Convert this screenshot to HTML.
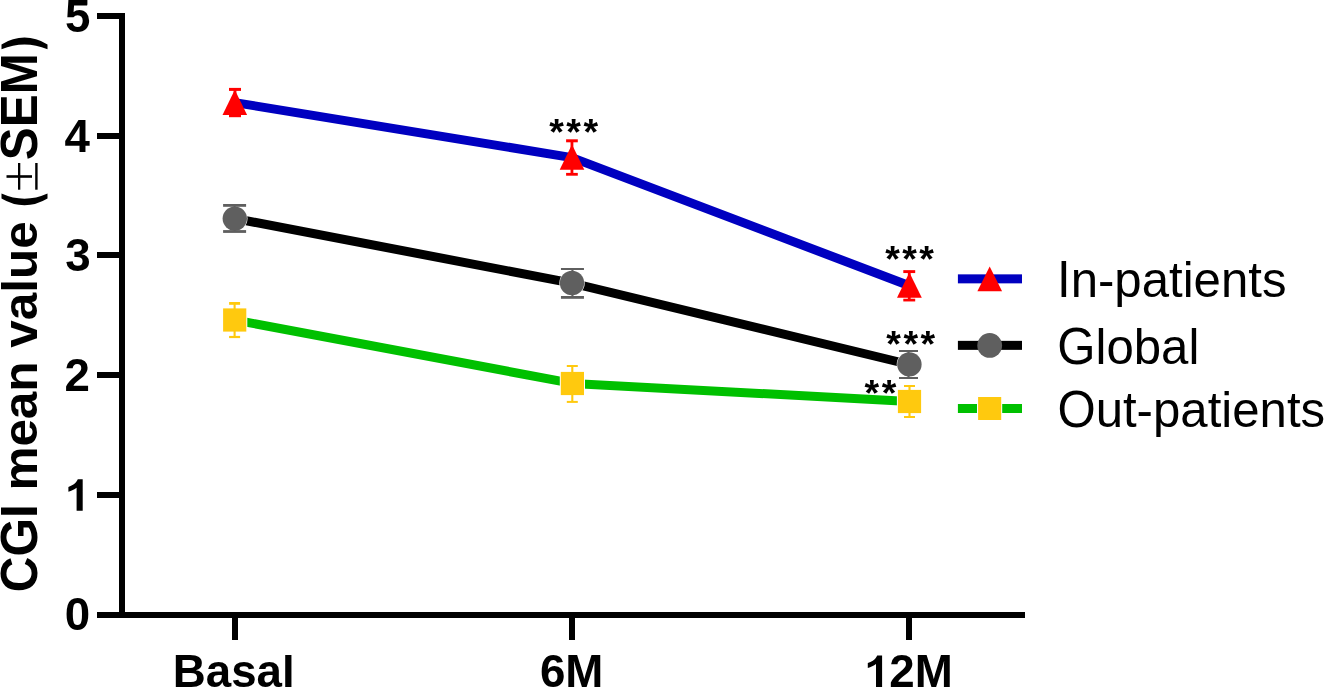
<!DOCTYPE html>
<html><head><meta charset="utf-8"><style>
html,body{margin:0;padding:0;background:#fff;overflow:hidden;}
svg{display:block;will-change:transform;}
text{font-family:"Liberation Sans",sans-serif;font-kerning:none;}
</style></head><body>
<svg width="1325" height="688" viewBox="0 0 1325 688">
<g fill="#000">
<rect x="119" y="13" width="6" height="605"/>
<rect x="97" y="612" width="928" height="6"/>
<rect x="97" y="13" width="22" height="6"/>
<rect x="97" y="133" width="22" height="6"/>
<rect x="97" y="252" width="22" height="6"/>
<rect x="97" y="372" width="22" height="6"/>
<rect x="97" y="492" width="22" height="6"/>
<rect x="232" y="618" width="6" height="22"/>
<rect x="569" y="618" width="6" height="22"/>
<rect x="906" y="618" width="6" height="22"/>
</g>
<g font-size="45.7" font-weight="bold">
<text x="65.07" y="31.9">5</text>
<text x="64.42" y="151.6">4</text>
<text x="65.14" y="270.9">3</text>
<text x="64.52" y="390.8">2</text>
<text x="64.78" y="630.15">0</text>
</g>
<path d="M876.0,687 L882.1,687 L882.1,655.4 L877.2,655.4 C876.3,657.5 874.7,659.3 872.8,660.7 C871.3,661.7 869.6,662.5 867.8,663.1 L867.8,668 C870.9,667 873.8,665.6 876.0,663.9 Z" transform="translate(-799.4,-176.2)"/>
<path d="M70.6,0 L87.1,0 L87.1,5.6 L69.7,5.6 Z"/>
<g font-size="45.7" font-weight="bold">
<text x="172.74" y="687">Basa</text>
<text transform="translate(281.99,687) scale(1,0.965)">l</text>
<text x="539.9" y="687">6M</text>
<text x="889.3" y="687">2M</text>
</g>
<path d="M876.0,687 L882.1,687 L882.1,655.4 L877.2,655.4 C876.3,657.5 874.7,659.3 872.8,660.7 C871.3,661.7 869.6,662.5 867.8,663.1 L867.8,668 C870.9,667 873.8,665.6 876.0,663.9 Z"/>
<g font-weight="bold">
<text font-size="49.44" transform="translate(37.4,592.2) rotate(-90) scale(1,1.056)">CGI</text>
<text font-size="49.44" transform="translate(37.4,490.57) rotate(-90) scale(1,0.985)">mean va</text>
<text font-size="49.44" transform="translate(37.4,292.69) rotate(-90)">l</text>
<text font-size="49.44" transform="translate(37.4,278.95) rotate(-90) scale(1,0.985)">ue</text>
<text font-size="49.37" transform="translate(37.4,160.2) rotate(-90) scale(1,1.056)">SEM</text>
</g>
<path d="M1.5,193.5 Q24.5,203.9 47.5,193.5 L47.5,198.5 Q24.5,212.1 1.5,198.5 Z"/>
<path d="M1.5,44.4 Q24.5,30.8 47.5,44.4 L47.5,49.2 Q24.5,39.6 1.5,49.2 Z"/>
<rect x="18" y="163" width="2.3" height="26.7"/>
<rect x="6.5" y="175.2" width="25.5" height="2.6"/>
<rect x="35.2" y="163" width="2.4" height="26.7"/>
<polyline points="234.7,320 572.4,383.4 909.5,401.5" fill="none" stroke="#00C000" stroke-width="9" stroke-linejoin="round"/>
<g fill="#fff"><rect x="222.1" y="307.4" width="25.2" height="25.2"/><rect x="559.8" y="370.9" width="25.2" height="25.2"/><rect x="896.9" y="388.9" width="25.2" height="25.2"/></g>
<g fill="#FFC90E">
<rect x="233.55" y="303.4" width="2.1" height="33.6"/>
<rect x="229.10" y="302.00" width="11" height="2.8"/>
<rect x="229.10" y="335.90" width="11" height="2.2"/>
<rect x="571.25" y="366" width="2.1" height="35.9"/>
<rect x="566.80" y="365.00" width="11" height="2"/>
<rect x="566.80" y="400.90" width="11" height="2"/>
<rect x="908.45" y="386" width="2.1" height="31.0"/>
<rect x="904.00" y="385.00" width="11" height="2"/>
<rect x="904.00" y="416.00" width="11" height="2"/>
<rect x="223.1" y="308.4" width="23.2" height="23.2"/>
<rect x="560.8" y="371.9" width="23.2" height="23.2"/>
<rect x="897.9" y="389.9" width="23.2" height="23.2"/>
</g>
<polyline points="234.8,218.5 572,283.1 909.4,364.5" fill="none" stroke="#000" stroke-width="9" stroke-linejoin="round"/>
<g fill="#fff"><circle cx="234.8" cy="218.6" r="12.7"/><circle cx="572" cy="283" r="12.7"/><circle cx="909.4" cy="364.4" r="12.7"/></g>
<g fill="#5F5F5F">
<rect x="233.55" y="205.4" width="2.1" height="26.1"/>
<rect x="223.10" y="204.00" width="23" height="2.8"/>
<rect x="223.10" y="230.10" width="23" height="2.8"/>
<rect x="571.40" y="269" width="2.1" height="28.4"/>
<rect x="560.95" y="268.00" width="23" height="2"/>
<rect x="560.95" y="296.00" width="23" height="2.8"/>
<rect x="907.45" y="351" width="2.1" height="27.0"/>
<rect x="899.00" y="350.00" width="19" height="2"/>
<rect x="899.00" y="377.00" width="19" height="2"/>
<circle cx="234.8" cy="218.6" r="12.2"/>
<circle cx="572" cy="283" r="12.2"/>
<circle cx="909.4" cy="364.4" r="12.2"/>
</g>
<polyline points="234.8,102.6 572,157.6 909.4,285.7" fill="none" stroke="#0000C0" stroke-width="9" stroke-linejoin="round"/>
<g fill="#FF0000">
<rect x="233.60" y="89.4" width="2.8" height="26.4"/>
<rect x="229.00" y="87.90" width="12" height="3"/>
<rect x="229.00" y="114.40" width="12" height="2.8"/>
<rect x="570.55" y="140.8" width="2.8" height="33.5"/>
<rect x="566.10" y="139.30" width="11.7" height="3"/>
<rect x="566.10" y="172.90" width="11.7" height="2.8"/>
<rect x="907.85" y="271.6" width="2.8" height="28.5"/>
<rect x="903.30" y="270.15" width="11.9" height="2.9"/>
<rect x="903.30" y="298.75" width="11.9" height="2.7"/>
<polygon points="222.5,114.9 247.1,114.9 234.8,89.7"/>
<polygon points="559.7,169.8 584.3,169.8 572,144.6"/>
<polygon points="897,297.7 921.8,297.7 909.4,272.5"/>
</g>
<g font-size="37.5" font-weight="bold" text-anchor="middle" letter-spacing="2.5">
<text x="574.9" y="145.2">***</text>
<text x="910.8" y="272.2">***</text>
<text x="912.0" y="356.6">***</text>
<text x="881.7" y="406.2">**</text>
</g>
<rect x="957.9" y="274.35" width="64.1" height="9" fill="#0000C0"/>
<polygon points="977.4,291.2 1002.1,291.2 989.7,266.6" fill="#FF0000"/>
<rect x="957.9" y="340.85" width="64.1" height="9" fill="#000"/>
<circle cx="989.7" cy="345.4" r="12.4" fill="#5F5F5F"/>
<rect x="957.9" y="404" width="19.1" height="9" fill="#00C000"/>
<rect x="1002.2" y="404" width="19.8" height="9" fill="#00C000"/>
<rect x="978.1" y="397" width="23.1" height="23" fill="#FFC90E"/>
<g font-size="49.15">
<text transform="translate(1057,296.9) scale(1,1.058)">I</text>
<text transform="translate(1070.66,296.9) scale(1,1.015)">n-patients</text>
<text transform="translate(1057.3,363.7) scale(1,1.058)">G</text>
<text transform="translate(1095.53,363.7) scale(1,1.015)">lobal</text>
<text transform="translate(1057.4,426.7) scale(1,1.058)">O</text>
<text transform="translate(1095.63,426.7) scale(1,1.015)">ut-patients</text>
</g>
</svg>
</body></html>
